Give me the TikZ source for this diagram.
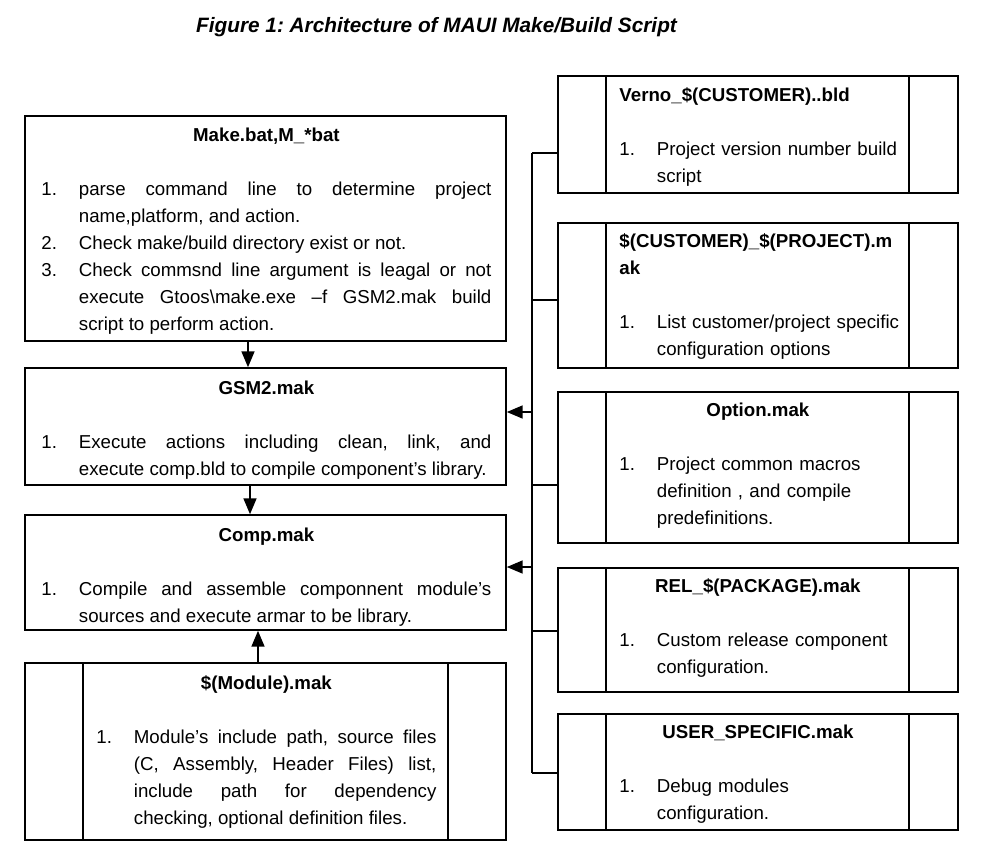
\documentclass[tikz,border=0pt]{standalone}
\usepackage{fontspec}
\setmainfont{Liberation Sans}
\usetikzlibrary{arrows, fit}

\frenchspacing
\tolerance=10000
\hbadness=10000
\hfuzz=6pt
\adjdemerits=0
\hyphenpenalty=10000

\newlength\numw
\setlength\numw{18.75pt}
% numbered entry with hanging indent
\newcommand\itm[2]{\par\noindent\hangindent=\numw\hangafter=1\makebox[\numw][l]{#1.}#2\par}
% box headings
\newcommand\boxhd[1]{{\centering\bfseries\strut #1\par}\vspace{\baselineskip}}
\newcommand\lboxhd[1]{{\raggedright\bfseries\strut #1\par}\vspace{\baselineskip}}
\newcommand\rboxhd[1]{\noindent\makebox[138.5pt]{\bfseries\strut #1}\par\vspace{\baselineskip}}

\begin{document}
\begin{tikzpicture}[x=0.5pt, y=-0.5pt,
    box/.style={draw, line width=0.85pt},
    txt/.style={anchor=north west, font=\fontsize{9.35pt}{13.5pt}\selectfont},
    arr/.style={arrows=-triangle 45, line width=0.8pt},
    bus/.style={line width=0.75pt}]
        \tikzstyle{every node}+=[inner sep=0pt]
        \useasboundingbox (0,0) rectangle (983,853);

        \node[font=\fontsize{10.4pt}{12pt}\selectfont\bfseries\itshape] (fig) at (436.5,27)
            {Figure 1: Architecture of MAUI Make/Build Script};

        % left column
        \node[box, fit={(25,116) (506,341)}] (make) {};
        \node[txt, text width=225pt, align=justify] (maketxt) at (41,122) {%
            \boxhd{Make.bat,M\_*bat}
            \itm{1}{parse command line to determine project\linebreak name,platform, and action.}
            \itm{2}{Check make/build directory exist or not.}
            \itm{3}{Check commsnd line argument is leagal or not\linebreak execute Gtoos\textbackslash make.exe –f GSM2.mak build\linebreak script to perform action.}};

        \node[box, fit={(25,368) (506,485)}] (gsm) {};
        \node[txt, text width=225pt, align=justify] (gsmtxt) at (41,375) {%
            \boxhd{GSM2.mak}
            \itm{1}{Execute actions including clean, link, and\linebreak execute comp.bld to compile component’s library.}};

        \node[box, fit={(25,515) (506,630)}] (comp) {};
        \node[txt, text width=225pt, align=justify] (comptxt) at (41,522) {%
            \boxhd{Comp.mak}
            \itm{1}{Compile and assemble componnent module’s\linebreak sources and execute armar to be library.}};

        \node[box, fit={(25,663) (506,840)}] (module) {};
        \draw[box] (module.north -| 83,0) -- (module.south -| 83,0)
                   (module.north -| 448,0) -- (module.south -| 448,0);
        \node[txt, text width=170pt, align=justify] (moduletxt) at (96,670) {%
            \boxhd{\$(Module).mak}
            \itm{1}{Module’s include path, source files\linebreak (C, Assembly, Header Files) list,\linebreak include path for dependency\linebreak checking, optional definition files.}};

        \draw[arr] (make.south -| 248,0) -- (gsm.north -| 248,0);
        \draw[arr] (gsm.south -| 250,0) -- (comp.north -| 250,0);
        \draw[arr] (module.north -| 258,0) -- (comp.south -| 258,0);

        % right column
        \node[box, fit={(558,76) (958,193)}] (verno) {};
        \node[txt, text width=146pt, align=left] (vernotxt) at (619,82) {%
            \lboxhd{Verno\_\$(CUSTOMER)..bld}
            \itm{1}{Project version number build\newline script}};

        \node[box, fit={(558,223) (958,368)}] (cust) {};
        \node[txt, text width=146pt, align=left] (custtxt) at (619,228) {%
            \lboxhd{\$(CUSTOMER)\_\$(PROJECT).m\newline ak}
            \itm{1}{List customer/project specific\newline configuration options}};

        \node[box, fit={(558,392) (958,543)}] (opt) {};
        \node[txt, text width=146pt, align=left] (opttxt) at (619,397) {%
            \rboxhd{Option.mak}
            \itm{1}{Project common macros\newline definition , and compile\newline predefinitions.}};

        \node[box, fit={(558,568) (958,692)}] (rel) {};
        \node[txt, text width=146pt, align=left] (reltxt) at (619,573) {%
            \rboxhd{REL\_\$(PACKAGE).mak}
            \itm{1}{Custom release component\newline configuration.}};

        \node[box, fit={(558,714) (958,830)}] (user) {};
        \node[txt, text width=146pt, align=left] (usertxt) at (619,719) {%
            \rboxhd{USER\_SPECIFIC.mak}
            \itm{1}{Debug modules\newline configuration.}};

        \foreach \b in {verno, cust, opt, rel, user}
            \draw[box] (\b.north -| 606,0) -- (\b.south -| 606,0)
                       (\b.north -| 909,0) -- (\b.south -| 909,0);

        % bus to the left column
        \coordinate (bustop) at (532,153);
        \coordinate (busbot) at (532,773);
        \draw[bus] (bustop) -- (busbot);
        \draw[bus] (bustop) -- (verno.west |- bustop);
        \draw[bus] (532,300) -- (cust.west |- 0,300);
        \draw[bus] (532,485) -- (opt.west |- 0,485);
        \draw[bus] (532,631) -- (rel.west |- 0,631);
        \draw[bus] (busbot) -- (user.west |- busbot);

        \draw[arr] (532,412) -- (gsm.east |- 0,412);
        \draw[arr] (532,567) -- (comp.east |- 0,567);
      \end{tikzpicture}
\end{document}
